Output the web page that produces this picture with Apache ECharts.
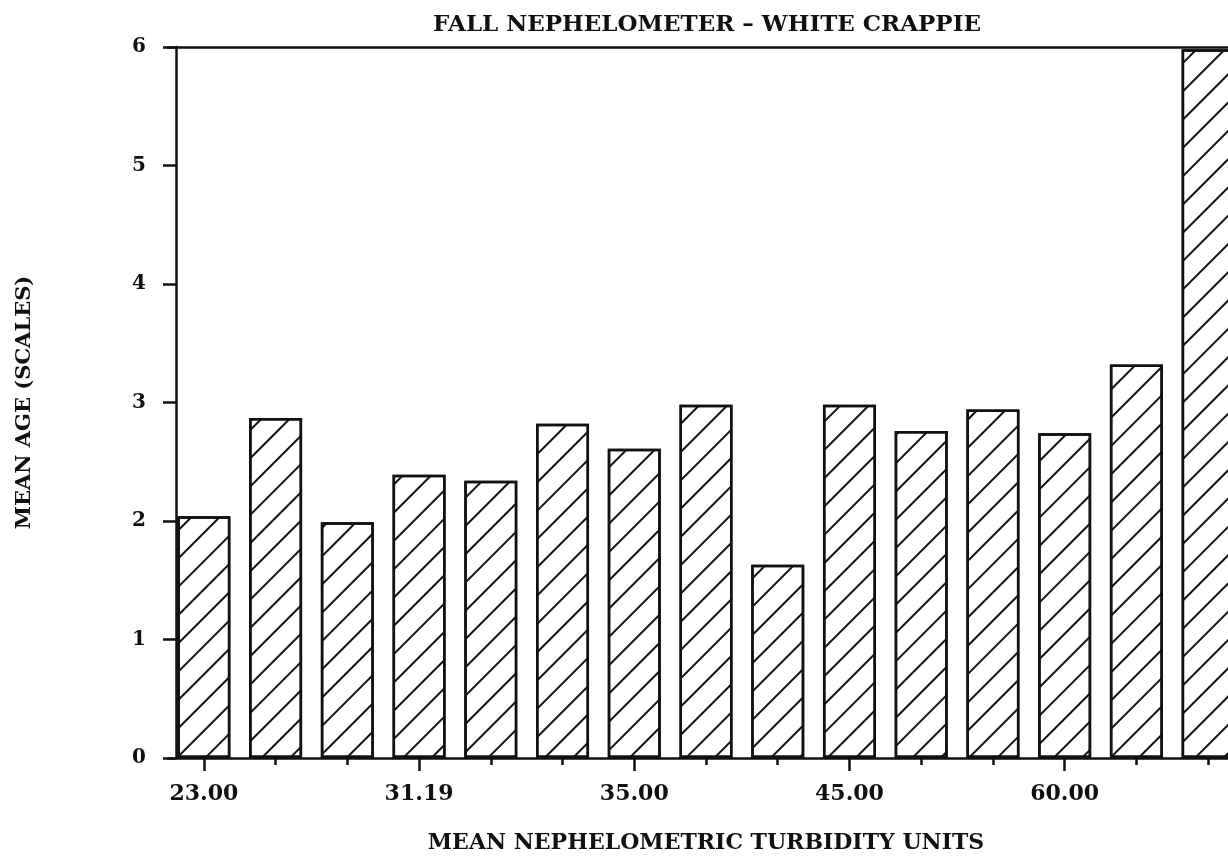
<!DOCTYPE html>
<html>
<head>
<meta charset="utf-8">
<script src="https://cdn.jsdelivr.net/npm/echarts@6/dist/echarts.min.js"></script>
<style>
  html, body { margin: 0; padding: 0; background: #fff; }
  #chart { width: 1228px; height: 862px; }
</style>
</head>
<body>
<div id="chart"></div>
<script>
// tick labels under every third bar, blanks elsewhere
var tickLabels = ['23.00', '', '', '31.19', '', '', '35.00', '', '', '45.00', '', '', '60.00', '', '']
var meanAge = [2.04, 2.87, 1.99, 2.39, 2.34, 2.82, 2.61, 2.98, 1.63, 2.98, 2.76, 2.94, 2.74, 3.32, 5.98]
var yTicks = [0, 6, 1]  // min, max, step

var font = 'DejaVu Serif'
var ink = '#111'

var chart = echarts.init(document.getElementById('chart'))
chart.setOption({
  animation: false,
  backgroundColor: '#fff',
  title: {
    text: 'FALL NEPHELOMETER \u2013 WHITE CRAPPIE',
    left: 702,
    top: 9,
    textAlign: 'center',
    textStyle: { fontFamily: font, fontWeight: 'bold', fontSize: 23, color: ink }
  },
  // plot runs past the right edge of the page, like the cropped scan
  grid: { left: 168, width: 1076, top: 47, bottom: 104, containLabel: false, outerBoundsMode: 'none' },
  xAxis: [
    {
      type: 'category',
      data: tickLabels,
      position: 'bottom',
      name: 'MEAN NEPHELOMETRIC TURBIDITY UNITS',
      nameLocation: 'middle',
      nameGap: 74,
      nameTextStyle: { fontFamily: font, fontWeight: 'bold', fontSize: 22, color: ink },
      axisLine: { lineStyle: { color: ink, width: 2.5 } },
      axisTick: { show: true, alignWithLabel: true, interval: 0, length: 7, lineStyle: { color: ink, width: 2.5 } },
      axisLabel: { interval: 0, margin: 25, fontFamily: font, fontWeight: 'bold', fontSize: 22, color: ink },
      splitLine: { show: false }
    },
    {
      // longer ticks at the labelled positions
      type: 'category',
      data: tickLabels,
      position: 'bottom',
      axisLine: { show: false },
      axisTick: { show: true, alignWithLabel: true, interval: 2, length: 13, lineStyle: { color: ink, width: 2.5 } },
      axisLabel: { show: false },
      splitLine: { show: false }
    },
    {
      // top frame line
      type: 'category',
      data: tickLabels,
      position: 'top',
      axisLine: { lineStyle: { color: ink, width: 2.5 } },
      axisTick: { show: false },
      axisLabel: { show: false },
      splitLine: { show: false }
    }
  ],
  yAxis: {
    type: 'value',
    min: yTicks[0],
    max: yTicks[1],
    interval: yTicks[2],
    offset: -8,
    name: 'MEAN AGE (SCALES)',
    nameLocation: 'middle',
    nameGap: 141,
    nameRotate: 90,
    nameTextStyle: { fontFamily: font, fontWeight: 'bold', fontSize: 21, color: ink },
    axisLine: { show: true, lineStyle: { color: ink, width: 2.5 } },
    axisTick: { show: true, length: 13, lineStyle: { color: ink, width: 2.5 } },
    axisLabel: { margin: 30, fontFamily: font, fontWeight: 'bold', fontSize: 20, color: ink },
    splitLine: { show: false }
  },
  series: [{
    type: 'bar',
    data: meanAge,
    barWidth: 53,
    xAxisIndex: 0,
    itemStyle: {
      color: '#fff',
      borderColor: ink,
      borderWidth: 2.5,
      decal: {
        symbol: 'rect',
        symbolSize: 1,
        color: ink,
        dashArrayX: [1, 0],
        dashArrayY: [2, 18],
        rotation: -Math.PI / 4
      }
    }
  }]
})
</script>
</body>
</html>
